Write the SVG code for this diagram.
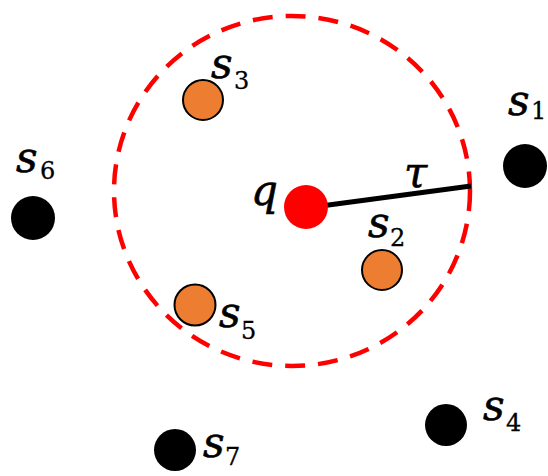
<svg xmlns="http://www.w3.org/2000/svg" width="548" height="476" viewBox="0 0 548 476">
<style>
.lbl{font-family:"DejaVu Serif",serif;font-style:italic;font-size:42px;fill:#000;stroke:#000;stroke-width:0.6}
.sub{font-family:"DejaVu Serif",serif;font-style:normal;font-size:24px;fill:#000;stroke:#000;stroke-width:0.3}
.orange{fill:#ED7D31;stroke:#000;stroke-width:2}
.black{fill:#000}
</style>
<rect width="548" height="476" fill="#fff"/>
<g id="range">
<ellipse cx="292" cy="191" rx="178" ry="175" fill="none" stroke="#FF0000" stroke-width="4.5" stroke-dasharray="20 13"/>
</g>
<g id="connectors">
<line x1="306" y1="208" x2="471" y2="186" stroke="#000" stroke-width="5"/>
<text class="lbl" x="404" y="187">τ</text>
</g>
<g id="q">
<circle cx="306" cy="207" r="22" fill="#FF0000"/>
<text class="lbl" x="251" y="205">q</text>
</g>
<g id="s1">
<circle class="black" cx="525" cy="166" r="22"/>
<text class="lbl" x="508" y="115">s</text><text class="sub" x="531" y="119">1</text>
</g>
<g id="s2">
<circle class="orange" cx="382" cy="270" r="20"/>
<text class="lbl" x="368" y="237">s</text><text class="sub" x="390" y="246">2</text>
</g>
<g id="s3">
<circle class="orange" cx="203" cy="100" r="20"/>
<text class="lbl" x="211" y="78">s</text><text class="sub" x="234" y="89">3</text>
</g>
<g id="s4">
<circle class="black" cx="446" cy="425" r="21"/>
<text class="lbl" x="483" y="420">s</text><text class="sub" x="506" y="431">4</text>
</g>
<g id="s5">
<circle class="orange" cx="195" cy="305" r="20.5"/>
<text class="lbl" x="219" y="327">s</text><text class="sub" x="241" y="339">5</text>
</g>
<g id="s6">
<circle class="black" cx="33" cy="218" r="22"/>
<text class="lbl" x="16" y="172">s</text><text class="sub" x="40" y="179">6</text>
</g>
<g id="s7">
<circle class="black" cx="175" cy="450" r="21"/>
<text class="lbl" x="203" y="457">s</text><text class="sub" x="225" y="465">7</text>
</g>
</svg>
